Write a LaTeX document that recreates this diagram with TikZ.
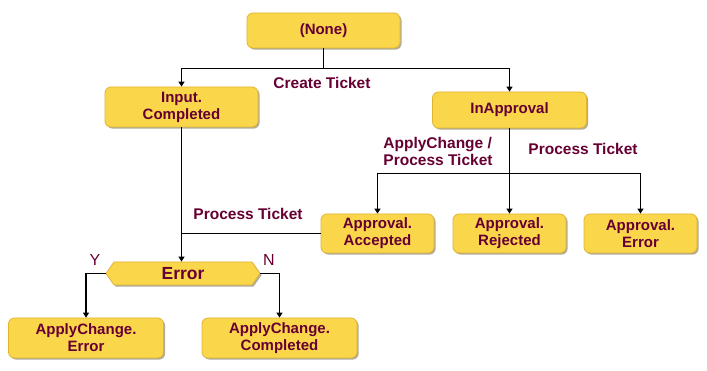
\documentclass[tikz,border=0pt]{standalone}
\usepackage{fontspec}
\setmainfont{Liberation Sans}
\usetikzlibrary{shapes.symbols,shadows,arrows.meta}
\definecolor{boxfill}{HTML}{FAD64B}
\definecolor{boxedge}{HTML}{E2B530}
\definecolor{txt}{HTML}{660033}
\definecolor{shade}{HTML}{A8A490}
\begin{document}
\begin{tikzpicture}[x=1pt,y=-1pt,
  lblfont/.style={font=\bfseries\fontsize{15}{17}\selectfont},
  state/.style={draw=boxedge, line width=0.8pt, fill=boxfill, rounded corners=6pt,
    lblfont, text=txt, align=center, inner sep=0pt,
    drop shadow={shadow xshift=1.6pt, shadow yshift=-1.6pt, fill=shade, opacity=0.9}},
  decision/.style={signal, signal to=west and east, signal pointer angle=110,
    draw=boxedge, line width=0.8pt, fill=boxfill, font=\bfseries\fontsize{17.5}{19}\selectfont,
    text=txt, inner sep=0pt,
    drop shadow={shadow xshift=1.6pt, shadow yshift=-1.6pt, fill=shade, opacity=0.9}},
  lbl/.style={font=\bfseries\fontsize{15.5}{17}\selectfont, text=txt, align=left, inner sep=0pt},
  yn/.style={font=\fontsize{16}{18}\selectfont, text=txt, inner sep=0pt},
  conn/.style={line width=1.7pt},
  arr/.style={conn, -{Triangle[length=5pt,width=6pt]}}]
\useasboundingbox[fill=white] (0,0) rectangle (707,371);

\node[state, minimum width=153pt, minimum height=35pt] (none) at (323.5,30.5) {(None)};
\node[state, minimum width=153pt, minimum height=40pt] (input) at (181.5,107) {Input.\\Completed};
\node[state, minimum width=154pt, minimum height=36pt] (inappr) at (509.5,110) {InApproval};
\node[state, minimum width=113pt, minimum height=39pt] (acc) at (377.5,233.5) {Approval.\\Accepted};
\node[state, minimum width=113pt, minimum height=39pt] (rej) at (509.5,233.5) {Approval.\\Rejected};
\node[state, minimum width=113pt, minimum height=39pt] (aerr) at (640.5,233.5) {Approval.\\Error};
\node[decision, minimum width=154pt, minimum height=23pt] (err) at (183,273.5) {Error};
\node[state, minimum width=155pt, minimum height=40pt] (ace) at (86,338) {ApplyChange.\\Error};
\node[state, minimum width=155pt, minimum height=40pt] (acd) at (279.5,338) {ApplyChange.\\Completed};

% from (None)
\draw[arr] (none.south) -- ++(0,20) -| (input.north);
\draw[arr] (none.south) -- ++(0,20) -| (inappr.north);
\node[lbl] (lct) at (322,83) {Create Ticket};

% from InApproval
\draw[arr] (inappr.south) -- ++(0,45) -| (acc.north);
\draw[arr] (inappr.south) -- (rej.north);
\draw[arr] (inappr.south) -- ++(0,45) -| (aerr.north);
\node[lbl] (lap) at (438,151) {ApplyChange /\\Process Ticket};
\node[lbl] (lpt1) at (583,149) {Process Ticket};

% into Error
\draw[arr] (input.south) -- (input.south |- err.north);
\draw[conn] (acc.west) -- (acc.west -| input.south);
\node[lbl] (lpt2) at (248,214) {Process Ticket};

% from Error
\draw[arr] (err.west) -- (ace.north |- err.west) -- (ace.north);
\draw[arr] (err.east) -- (acd.north |- err.east) -- (acd.north);
\node[yn] (ly) at (95,260) {Y};
\node[yn] (ln) at (269,260) {N};
\end{tikzpicture}
\end{document}
